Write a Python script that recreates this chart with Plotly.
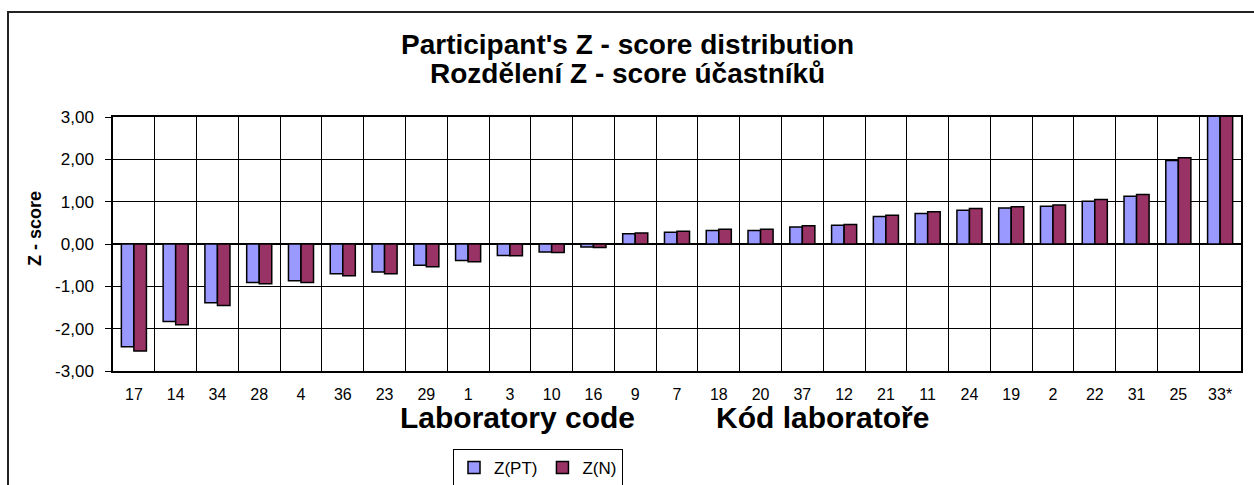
import plotly.graph_objects as go

labs = ["17", "14", "34", "28", "4", "36", "23", "29", "1", "3", "10", "16", "9", "7",
        "18", "20", "37", "12", "21", "11", "24", "19", "2", "22", "31", "25", "33*"]
z_pt = [-2.43, -1.83, -1.39, -0.91, -0.87, -0.70, -0.66, -0.50, -0.39, -0.27, -0.19, -0.07,
        0.24, 0.28, 0.32, 0.32, 0.40, 0.44, 0.65, 0.72, 0.80, 0.85, 0.89, 1.01, 1.13, 1.97, 5.6]
z_n = [-2.53, -1.91, -1.45, -0.94, -0.91, -0.75, -0.70, -0.54, -0.42, -0.28, -0.20, -0.08,
       0.26, 0.30, 0.35, 0.35, 0.43, 0.46, 0.68, 0.76, 0.84, 0.88, 0.92, 1.05, 1.17, 2.04, 5.9]
y_ticks = [-3, -2, -1, 0, 1, 2, 3]
y_tick_labels = ["-3,00", "-2,00", "-1,00", "0,00", "1,00", "2,00", "3,00"]
title_lines = ["Participant's Z - score distribution", "Rozdělení Z - score účastníků"]
x_titles = ["Laboratory code", "Kód laboratoře"]
y_title = "Z - score"

FONT = "Liberation Sans, Arial, sans-serif"
W, H = 1254, 485
L, R, T, B = 113, 13, 117, 114
PW, PH = W - L - R, H - T - B


def px(x):
    return (x - L) / PW


def py(y):
    return (H - B - y) / PH


fig = go.Figure()
fig.add_trace(go.Bar(x=labs, y=z_pt, name="Z(PT)",
                     marker=dict(color="#9999FF", line=dict(color="black", width=1.5))))
fig.add_trace(go.Bar(x=labs, y=z_n, name="Z(N)",
                     marker=dict(color="#993366", line=dict(color="black", width=1.5))))

fig.update_layout(
    width=W, height=H,
    margin=dict(l=L, r=R, t=T, b=B, autoexpand=False),
    paper_bgcolor="white", plot_bgcolor="white",
    font=dict(family=FONT, color="black", size=16),
    barmode="group", bargap=0.4, bargroupgap=0,
    showlegend=True,
    legend=dict(orientation="h", x=px(538), xanchor="center", y=py(449), yanchor="top",
                bordercolor="black", borderwidth=1, font=dict(size=17),
                itemwidth=30, tracegroupgap=0),
)

fig.update_xaxes(type="category", tickson="boundaries", showgrid=True, gridcolor="black",
                 gridwidth=1, ticks="", showline=True, mirror=True, linecolor="black",
                 linewidth=1.5, tickfont=dict(size=16), ticklabelstandoff=8)
fig.update_yaxes(range=[-3, 3], tickvals=y_ticks, ticktext=y_tick_labels, showgrid=True,
                 gridcolor="black", gridwidth=1, ticks="outside", ticklen=6,
                 tickcolor="black", showline=True, mirror=True, linecolor="black",
                 linewidth=1.5, zeroline=True, zerolinecolor="black", zerolinewidth=1.5,
                 tickfont=dict(size=17), ticklabelstandoff=8)

# chart title (two lines)
for txt, yc in zip(title_lines, [44, 73]):
    fig.add_annotation(text="<b>%s</b>" % txt, xref="paper", yref="paper",
                       x=px(627), y=py(yc), xanchor="center", yanchor="middle",
                       showarrow=False, font=dict(size=28, family=FONT))

# x axis title (two parts)
for txt, xc in zip(x_titles, [517, 822]):
    fig.add_annotation(text="<b>%s</b>" % txt, xref="paper", yref="paper",
                       x=px(xc), y=py(417), xanchor="center", yanchor="middle",
                       showarrow=False, font=dict(size=30, family=FONT))

# y axis title
fig.add_annotation(text="<b>%s</b>" % y_title, xref="paper", yref="paper",
                   x=px(35), y=py(229), xanchor="center", yanchor="middle", textangle=-90,
                   showarrow=False, font=dict(size=18, family=FONT))

# outer chart border
fig.add_shape(type="rect", xref="paper", yref="paper",
              x0=px(8), x1=px(W + 20), y0=py(12), y1=py(H + 20),
              line=dict(color="#222222", width=2), fillcolor="rgba(0,0,0,0)", layer="below")

fig.write_html("out.html", config={"displayModeBar": False},
               post_script="document.body.style.margin='0';document.body.style.overflow='hidden';")
